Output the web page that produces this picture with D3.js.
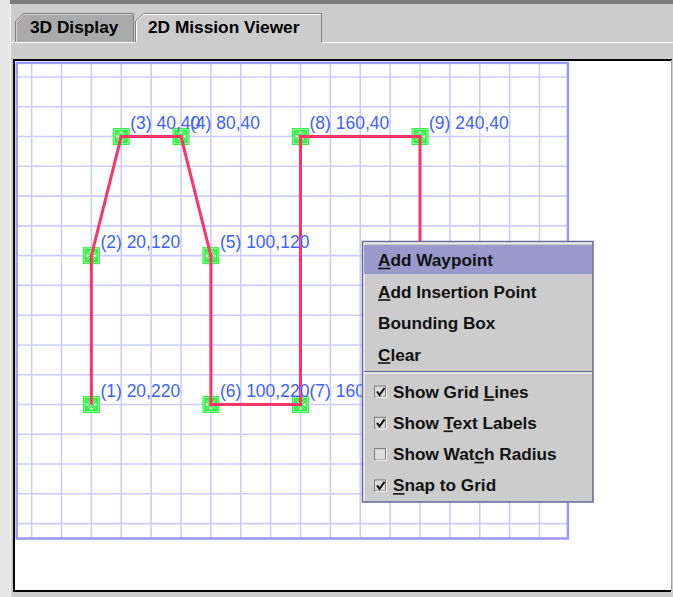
<!DOCTYPE html>
<html><head><meta charset="utf-8">
<script src="https://cdn.jsdelivr.net/npm/d3@7"></script>
<style>body{margin:0;background:#cccccc}svg{display:block}</style>
</head><body><svg id="c" width="673" height="597"></svg>
<script>
// ---- data ----
const pointIds = [1, 2, 3, 4, 5, 6, 7, 8, 9, 10];
const pointX = [20, 20, 40, 80, 100, 100, 160, 160, 240, 240];
const pointY = [220, 120, 40, 40, 120, 220, 220, 40, 40, 220];
const gridStep = 20;
const gridXMin = -30, gridXMax = 339, gridYMin = -9.5, gridYMax = 310;
const tabLabels = ["3D Display", "2D Mission Viewer"];
const menuItems = ["Add Waypoint", "Add Insertion Point", "Bounding Box", "Clear"];
const menuMnemonic = [0, 0, -1, 0];
const checkItems = ["Show Grid Lines", "Show Text Labels", "Show Watch Radius", "Snap to Grid"];
const checkStates = [true, true, false, true];
const checkMnemonic = [10, 5, 8, 0];

// ---- drawing ----
const svg = d3.select("#c");
const FONT = "'Liberation Sans', Arial, sans-serif";
const MENU = { x: 362.5, y: 241.5, w: 230.5, h: 260.5 };

// window background
svg.append("rect").attr("x", 0).attr("y", 0).attr("width", 673).attr("height", 597).attr("fill", "#cccccc");
svg.append("rect").attr("x", 0).attr("y", 0).attr("width", 10).attr("height", 597).attr("fill", "#e6e6e6");
svg.append("rect").attr("x", 10).attr("y", 0).attr("width", 663).attr("height", 4).attr("fill", "#7c7c7c");
svg.append("line").attr("x1", 10.5).attr("x2", 10.5).attr("y1", 4).attr("y2", 597).attr("stroke", "#f4f4f4");

// clip that hides whatever lies under the popup menu
const defs = svg.append("defs");
defs.append("clipPath").attr("id", "underMenu").append("path")
  .attr("clip-rule", "evenodd")
  .attr("d", `M0,0H673V597H0Z M${MENU.x},${MENU.y}h${MENU.w}v${MENU.h}h${-MENU.w}Z`);

// tabs
const tabX = d3.scaleOrdinal().domain(tabLabels).range([15, 135]);
const tabW = d3.scaleOrdinal().domain(tabLabels).range([118, 186]);
const tabTop = 13, tabBottom = 42;
tabLabels.forEach((t, i) => {
  const x0 = tabX(t), x1 = x0 + tabW(t);
  const sel = i === 1;
  const p = d3.path();
  p.moveTo(x0 + 0.5, tabBottom); p.lineTo(x0 + 0.5, tabTop + 8); p.lineTo(x0 + 8.5, tabTop + 0.5);
  p.lineTo(x1 + 0.5, tabTop + 0.5); p.lineTo(x1 + 0.5, tabBottom);
  svg.append("path").attr("d", p.toString()).attr("fill", sel ? "#cccccc" : "#aaaaaa")
    .attr("stroke", "#808080").attr("stroke-width", 1);
  const h = d3.path();
  h.moveTo(x0 + 1.5, tabBottom); h.lineTo(x0 + 1.5, tabTop + 8.5); h.lineTo(x0 + 8.5, tabTop + 1.5); h.lineTo(x1 - 0.5, tabTop + 1.5);
  svg.append("path").attr("d", h.toString()).attr("fill", "none").attr("stroke", sel ? "#ffffff" : "#d0d0d0").attr("stroke-width", 1);
  svg.append("text").attr("x", x0 + (sel ? 13 : 15)).attr("y", 33)
    .attr("font-family", FONT).attr("font-weight", "bold").attr("font-size", 17.3).attr("fill", "#000").text(t);
});
svg.append("line").attr("x1", 10).attr("x2", 135).attr("y1", 42.5).attr("y2", 42.5).attr("stroke", "#ffffff");
svg.append("line").attr("x1", 322).attr("x2", 673).attr("y1", 42.5).attr("y2", 42.5).attr("stroke", "#ffffff");

// content panel
svg.append("rect").attr("x", 13).attr("y", 59).attr("width", 659).attr("height", 533).attr("fill", "#ffffff");
svg.append("path").attr("d", "M14,592V60H672").attr("fill", "none").attr("stroke", "#000").attr("stroke-width", 2);
svg.append("path").attr("d", "M14,591H671").attr("fill", "none").attr("stroke", "#000").attr("stroke-width", 2);
svg.append("line").attr("x1", 671.5).attr("x2", 671.5).attr("y1", 60).attr("y2", 591).attr("stroke", "#9a9a9a");

// scales
const x = d3.scaleLinear().domain([0, 240]).range([61.5, 420]);
const y = d3.scaleLinear().domain([0, 220]).range([77, 404.5]);

// grid
const g = svg.append("g");
const vx = d3.range(Math.ceil(gridXMin / gridStep) * gridStep, gridXMax, gridStep);
const hy = d3.range(Math.ceil(gridYMin / gridStep) * gridStep, gridYMax, gridStep);
g.selectAll("line.v").data(vx).join("line").attr("class", "v")
  .attr("x1", d => x(d)).attr("x2", d => x(d)).attr("y1", y(gridYMin)).attr("y2", y(gridYMax))
  .attr("stroke", "#ccccff").attr("stroke-width", 1.6);
g.selectAll("line.h").data(hy).join("line").attr("class", "h")
  .attr("y1", d => y(d)).attr("y2", d => y(d)).attr("x1", x(gridXMin)).attr("x2", x(gridXMax))
  .attr("stroke", "#ccccff").attr("stroke-width", 1.6);
g.append("rect").attr("x", x(gridXMin)).attr("y", y(gridYMin))
  .attr("width", x(gridXMax) - x(gridXMin)).attr("height", y(gridYMax) - y(gridYMin))
  .attr("fill", "none").attr("stroke", "#9999ff").attr("stroke-width", 2.5);

// markers
const pts = pointIds.map((id, i) => ({ id, u: pointX[i], v: pointY[i] }));
const mk = svg.append("g").attr("clip-path", "url(#underMenu)").selectAll("g").data(pts).join("g")
  .attr("transform", d => `translate(${x(d.u)},${y(d.v)})`);
mk.append("rect").attr("x", -8.5).attr("y", -8.5).attr("width", 17).attr("height", 17).attr("fill", "#33ee44");
mk.append("rect").attr("x", -7).attr("y", -7).attr("width", 14).attr("height", 14).attr("fill", "none").attr("stroke", "#88ff99").attr("stroke-width", 1);
mk.append("path").attr("d", "M-4,-4L4,4M4,-4L-4,4").attr("stroke", "#c8ffcc").attr("stroke-width", 0.9);
mk.append("path").attr("d", "M-2,-5L2,-5L0,-2ZM-2,5L2,5L0,2ZM-5,-2L-5,2L-2,0ZM5,-2L5,2L2,0Z").attr("fill", "#eaffea");

// path line
const line = d3.line().x(d => x(d.u)).y(d => y(d.v));
svg.append("path").datum(pts).attr("d", line).attr("fill", "none").attr("clip-path", "url(#underMenu)")
  .attr("stroke", "#ff3366").attr("stroke-width", 3).attr("stroke-linejoin", "miter");

// labels (hidden where the popup covers them)
svg.append("g").attr("clip-path", "url(#underMenu)").selectAll("text").data(pts).join("text")
  .attr("x", d => x(d.u) + 9).attr("y", d => y(d.v) - 7.5)
  .attr("font-family", FONT).attr("font-size", 17.5).attr("fill", "#3d62ff")
  .text(d => `(${d.id}) ${d.u},${d.v}`);

// context menu
const menu = svg.append("g");
menu.append("rect").attr("x", MENU.x).attr("y", MENU.y).attr("width", MENU.w).attr("height", MENU.h)
  .attr("fill", "#cccccc").attr("stroke", "#666699").attr("stroke-width", 1.5);
menu.append("path").attr("d", "M364,501V243H592").attr("fill", "none").attr("stroke", "#ffffff").attr("stroke-width", 1);
menu.append("rect").attr("x", 364).attr("y", 245).attr("width", 228).attr("height", 29).attr("fill", "#9999cc");

const rowY = d3.scaleLinear().domain([0, 1]).range([266, 297.5]);
const chkY = d3.scaleLinear().domain([0, 1]).range([397.5, 428.8]);

function underline(textSel, idx, baseline) {
  if (idx < 0) return;
  const node = textSel.node();
  const x0 = node.getStartPositionOfChar(idx).x;
  const w = node.getSubStringLength(idx, 1);
  menu.append("line").attr("x1", x0).attr("x2", x0 + w).attr("y1", baseline + 2.5).attr("y2", baseline + 2.5)
    .attr("stroke", "#111").attr("stroke-width", 1.6);
}

menuItems.forEach((t, i) => {
  const b = rowY(i);
  const tx = menu.append("text").attr("x", 378).attr("y", b)
    .attr("font-family", FONT).attr("font-weight", "bold").attr("font-size", 17.2).attr("fill", "#111").text(t);
  underline(tx, menuMnemonic[i], b);
});

menu.append("line").attr("x1", 364).attr("x2", 592).attr("y1", 371.5).attr("y2", 371.5).attr("stroke", "#666699").attr("stroke-width", 1.2);
menu.append("line").attr("x1", 364).attr("x2", 592).attr("y1", 373).attr("y2", 373).attr("stroke", "#ffffff").attr("stroke-width", 1);

checkItems.forEach((t, i) => {
  const b = chkY(i);
  menu.append("rect").attr("x", 374.5).attr("y", b - 11.5).attr("width", 11).attr("height", 11)
    .attr("fill", "#dcdcdc").attr("stroke", "#7a7a7a").attr("stroke-width", 1);
  menu.append("path").attr("d", `M375.5,${b}H386.5V${b - 11}`).attr("fill", "none").attr("stroke", "#ffffff").attr("stroke-width", 1);
  if (checkStates[i]) {
    menu.append("path").attr("d", `M377,${b - 6}L379.5,${b - 2.5}L384.5,${b - 9.5}`)
      .attr("fill", "none").attr("stroke", "#111").attr("stroke-width", 2);
  }
  const tx = menu.append("text").attr("x", 393).attr("y", b)
    .attr("font-family", FONT).attr("font-weight", "bold").attr("font-size", 17.2).attr("fill", "#111").text(t);
  underline(tx, checkMnemonic[i], b);
});
</script></body></html>
